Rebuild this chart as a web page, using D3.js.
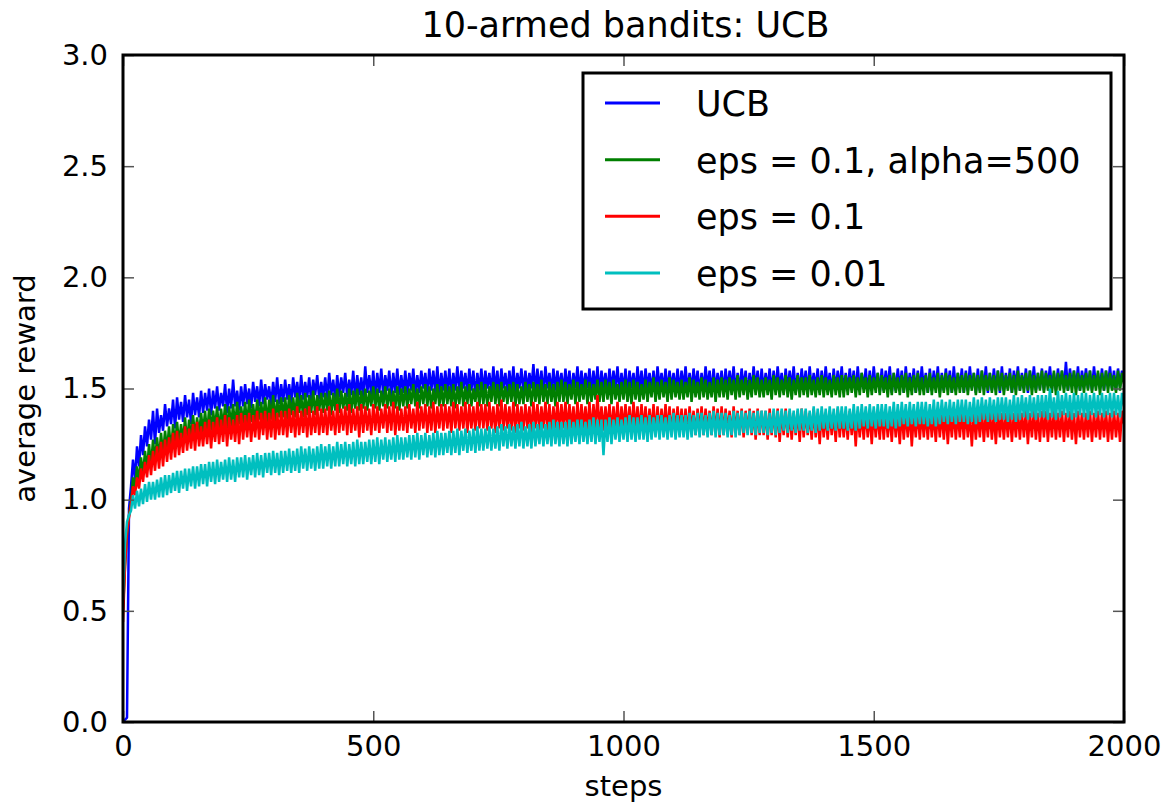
<!DOCTYPE html>
<html>
<head>
<meta charset="utf-8">
<script src="https://cdn.jsdelivr.net/npm/d3@7"></script>
<style>
  body { margin: 0; background: #fff; }
  text { font-family: "DejaVu Sans", sans-serif; fill: #000; }
</style>
</head>
<body>
<div id="chart"></div>
<script>
// Average reward, one value every 4 steps
// (values swing between the lower and upper edge of each noisy band)
const stepSize = 4;

const ucb = [
  0.00, 0.01, 0.02, 0.96, 1.06, 1.18, 1.09, 1.24, 1.15, 1.29, 1.20, 1.33, 1.24, 1.36, 1.27, 1.40, 1.25, 1.41, 1.30, 1.38,
  1.31, 1.43, 1.33, 1.41, 1.34, 1.45, 1.32, 1.46, 1.36, 1.44, 1.35, 1.47, 1.37, 1.45, 1.34, 1.48, 1.38, 1.46, 1.37, 1.49,
  1.39, 1.48, 1.40, 1.50, 1.38, 1.49, 1.41, 1.51, 1.40, 1.48, 1.42, 1.52, 1.39, 1.50, 1.41, 1.54, 1.42, 1.49, 1.40, 1.51,
  1.42, 1.52, 1.43, 1.50, 1.41, 1.53, 1.44, 1.51, 1.42, 1.54, 1.43, 1.52, 1.45, 1.51, 1.42, 1.53, 1.44, 1.55, 1.43, 1.52,
  1.44, 1.54, 1.45, 1.52, 1.43, 1.55, 1.46, 1.53, 1.44, 1.56, 1.45, 1.53, 1.46, 1.55, 1.44, 1.54, 1.47, 1.56, 1.45, 1.53,
  1.46, 1.55, 1.45, 1.57, 1.47, 1.54, 1.45, 1.56, 1.46, 1.55, 1.48, 1.57, 1.46, 1.54, 1.47, 1.58, 1.45, 1.56, 1.47, 1.55,
  1.46, 1.60, 1.48, 1.56, 1.47, 1.58, 1.46, 1.57, 1.48, 1.59, 1.47, 1.56, 1.49, 1.58, 1.46, 1.57, 1.48, 1.59, 1.47, 1.56,
  1.48, 1.58, 1.47, 1.57, 1.49, 1.59, 1.47, 1.56, 1.48, 1.58, 1.50, 1.57, 1.47, 1.59, 1.49, 1.58, 1.48, 1.60, 1.47, 1.57,
  1.49, 1.58, 1.48, 1.59, 1.47, 1.57, 1.49, 1.60, 1.48, 1.58, 1.50, 1.57, 1.48, 1.59, 1.49, 1.58, 1.47, 1.57, 1.49, 1.59,
  1.48, 1.58, 1.50, 1.57, 1.48, 1.60, 1.49, 1.58, 1.47, 1.59, 1.50, 1.57, 1.48, 1.58, 1.49, 1.60, 1.48, 1.57, 1.50, 1.59,
  1.48, 1.58, 1.49, 1.57, 1.50, 1.61, 1.48, 1.59, 1.49, 1.58, 1.47, 1.60, 1.50, 1.57, 1.48, 1.59, 1.49, 1.58, 1.50, 1.57,
  1.48, 1.59, 1.49, 1.58, 1.47, 1.57, 1.50, 1.60, 1.48, 1.58, 1.49, 1.57, 1.50, 1.59, 1.48, 1.58, 1.49, 1.60, 1.47, 1.58,
  1.50, 1.57, 1.48, 1.59, 1.49, 1.58, 1.50, 1.60, 1.48, 1.57, 1.49, 1.59, 1.47, 1.58, 1.50, 1.57, 1.48, 1.60, 1.49, 1.58,
  1.48, 1.59, 1.50, 1.57, 1.49, 1.58, 1.48, 1.60, 1.50, 1.57, 1.49, 1.59, 1.48, 1.58, 1.50, 1.57, 1.49, 1.59, 1.48, 1.58,
  1.50, 1.60, 1.48, 1.57, 1.49, 1.59, 1.50, 1.58, 1.48, 1.57, 1.49, 1.60, 1.50, 1.58, 1.48, 1.59, 1.49, 1.57, 1.50, 1.58,
  1.48, 1.59, 1.49, 1.58, 1.50, 1.60, 1.48, 1.57, 1.49, 1.59, 1.50, 1.58, 1.48, 1.57, 1.49, 1.60, 1.50, 1.58, 1.48, 1.59,
  1.49, 1.57, 1.50, 1.59, 1.48, 1.58, 1.49, 1.60, 1.50, 1.57, 1.48, 1.59, 1.49, 1.58, 1.50, 1.60, 1.48, 1.57, 1.49, 1.59,
  1.50, 1.58, 1.48, 1.60, 1.49, 1.57, 1.50, 1.59, 1.48, 1.58, 1.49, 1.60, 1.50, 1.57, 1.48, 1.59, 1.49, 1.58, 1.50, 1.60,
  1.48, 1.57, 1.49, 1.59, 1.50, 1.58, 1.48, 1.60, 1.49, 1.57, 1.50, 1.59, 1.48, 1.58, 1.49, 1.60, 1.50, 1.57, 1.48, 1.59,
  1.49, 1.58, 1.50, 1.60, 1.48, 1.57, 1.49, 1.59, 1.50, 1.58, 1.48, 1.60, 1.49, 1.57, 1.50, 1.59, 1.48, 1.58, 1.49, 1.60,
  1.50, 1.57, 1.48, 1.59, 1.49, 1.58, 1.50, 1.60, 1.48, 1.57, 1.49, 1.59, 1.50, 1.58, 1.48, 1.60, 1.49, 1.57, 1.50, 1.59,
  1.48, 1.58, 1.49, 1.60, 1.50, 1.57, 1.48, 1.59, 1.49, 1.58, 1.50, 1.60, 1.48, 1.57, 1.49, 1.59, 1.50, 1.58, 1.48, 1.60,
  1.49, 1.57, 1.50, 1.59, 1.48, 1.58, 1.51, 1.60, 1.49, 1.57, 1.50, 1.59, 1.48, 1.58, 1.51, 1.60, 1.49, 1.57, 1.50, 1.59,
  1.49, 1.58, 1.51, 1.60, 1.50, 1.57, 1.49, 1.59, 1.51, 1.58, 1.50, 1.62, 1.49, 1.59, 1.51, 1.58, 1.50, 1.60, 1.49, 1.58,
  1.51, 1.59, 1.50, 1.58, 1.49, 1.60, 1.51, 1.57, 1.50, 1.59, 1.49, 1.58, 1.51, 1.60, 1.50, 1.58, 1.49, 1.59, 1.51, 1.58,
  1.54
];

const epsAlpha = [
  0.50, 0.70, 0.84, 0.93, 0.99, 1.10, 1.05, 1.15, 1.08, 1.19, 1.11, 1.22, 1.13, 1.25, 1.15, 1.27, 1.17, 1.28, 1.18, 1.30,
  1.20, 1.31, 1.22, 1.33, 1.21, 1.34, 1.24, 1.35, 1.25, 1.34, 1.26, 1.37, 1.25, 1.36, 1.27, 1.38, 1.28, 1.37, 1.29, 1.39,
  1.30, 1.40, 1.29, 1.41, 1.31, 1.40, 1.32, 1.42, 1.30, 1.41, 1.32, 1.43, 1.31, 1.42, 1.33, 1.43, 1.32, 1.44, 1.34, 1.42,
  1.34, 1.44, 1.33, 1.45, 1.35, 1.43, 1.34, 1.45, 1.36, 1.44, 1.35, 1.46, 1.34, 1.45, 1.36, 1.47, 1.35, 1.45, 1.37, 1.46,
  1.37, 1.46, 1.36, 1.47, 1.38, 1.46, 1.37, 1.48, 1.39, 1.47, 1.37, 1.48, 1.38, 1.47, 1.39, 1.49, 1.38, 1.47, 1.40, 1.48,
  1.39, 1.48, 1.40, 1.49, 1.38, 1.48, 1.40, 1.50, 1.39, 1.49, 1.41, 1.48, 1.40, 1.50, 1.39, 1.49, 1.41, 1.50, 1.40, 1.49,
  1.41, 1.50, 1.40, 1.49, 1.42, 1.51, 1.41, 1.50, 1.40, 1.49, 1.42, 1.51, 1.41, 1.50, 1.42, 1.49, 1.41, 1.51, 1.40, 1.50,
  1.42, 1.51, 1.41, 1.50, 1.43, 1.52, 1.42, 1.50, 1.41, 1.51, 1.43, 1.52, 1.42, 1.51, 1.41, 1.50, 1.43, 1.52, 1.42, 1.51,
  1.42, 1.52, 1.43, 1.51, 1.42, 1.52, 1.41, 1.51, 1.43, 1.53, 1.42, 1.51, 1.43, 1.52, 1.42, 1.50, 1.44, 1.52, 1.42, 1.53,
  1.43, 1.52, 1.42, 1.51, 1.44, 1.53, 1.43, 1.52, 1.42, 1.53, 1.44, 1.51, 1.43, 1.52, 1.44, 1.53, 1.42, 1.52, 1.43, 1.51,
  1.43, 1.53, 1.44, 1.52, 1.42, 1.53, 1.44, 1.52, 1.43, 1.54, 1.44, 1.52, 1.43, 1.53, 1.44, 1.52, 1.42, 1.53, 1.44, 1.54,
  1.44, 1.53, 1.43, 1.52, 1.45, 1.54, 1.43, 1.53, 1.44, 1.52, 1.45, 1.54, 1.43, 1.53, 1.44, 1.52, 1.45, 1.54, 1.44, 1.53,
  1.44, 1.54, 1.45, 1.53, 1.43, 1.54, 1.45, 1.52, 1.44, 1.53, 1.45, 1.54, 1.44, 1.53, 1.43, 1.54, 1.45, 1.53, 1.44, 1.52,
  1.45, 1.54, 1.44, 1.53, 1.46, 1.55, 1.44, 1.53, 1.45, 1.54, 1.46, 1.53, 1.44, 1.55, 1.45, 1.54, 1.46, 1.53, 1.45, 1.54,
  1.45, 1.53, 1.46, 1.55, 1.44, 1.54, 1.46, 1.53, 1.45, 1.55, 1.46, 1.54, 1.45, 1.53, 1.46, 1.55, 1.44, 1.54, 1.46, 1.55,
  1.46, 1.54, 1.45, 1.55, 1.47, 1.54, 1.45, 1.56, 1.46, 1.54, 1.47, 1.55, 1.45, 1.54, 1.46, 1.56, 1.47, 1.55, 1.46, 1.54,
  1.46, 1.55, 1.47, 1.54, 1.45, 1.56, 1.47, 1.55, 1.46, 1.54, 1.47, 1.56, 1.46, 1.55, 1.45, 1.54, 1.47, 1.56, 1.46, 1.55,
  1.47, 1.55, 1.46, 1.56, 1.47, 1.54, 1.46, 1.55, 1.47, 1.56, 1.46, 1.55, 1.47, 1.54, 1.46, 1.56, 1.47, 1.55, 1.46, 1.56,
  1.46, 1.56, 1.47, 1.55, 1.48, 1.56, 1.46, 1.55, 1.47, 1.57, 1.48, 1.55, 1.46, 1.56, 1.47, 1.55, 1.48, 1.57, 1.47, 1.56,
  1.48, 1.55, 1.46, 1.56, 1.47, 1.57, 1.48, 1.55, 1.47, 1.56, 1.48, 1.57, 1.46, 1.55, 1.47, 1.56, 1.48, 1.57, 1.47, 1.55,
  1.47, 1.56, 1.48, 1.57, 1.47, 1.55, 1.48, 1.57, 1.46, 1.56, 1.48, 1.57, 1.47, 1.56, 1.48, 1.55, 1.47, 1.57, 1.48, 1.56,
  1.48, 1.57, 1.47, 1.56, 1.49, 1.57, 1.47, 1.56, 1.48, 1.58, 1.47, 1.56, 1.49, 1.57, 1.48, 1.56, 1.47, 1.58, 1.49, 1.57,
  1.47, 1.56, 1.49, 1.57, 1.48, 1.56, 1.47, 1.58, 1.49, 1.56, 1.48, 1.57, 1.49, 1.58, 1.47, 1.56, 1.48, 1.57, 1.49, 1.58,
  1.48, 1.57, 1.49, 1.56, 1.48, 1.58, 1.47, 1.57, 1.49, 1.58, 1.48, 1.56, 1.49, 1.57, 1.48, 1.58, 1.47, 1.57, 1.49, 1.56,
  1.48, 1.57, 1.49, 1.58, 1.48, 1.56, 1.49, 1.58, 1.47, 1.57, 1.49, 1.58, 1.48, 1.57, 1.49, 1.56, 1.48, 1.58, 1.49, 1.57,
  1.52
];

const eps01 = [
  0.45, 0.70, 0.85, 0.92, 0.98, 1.06, 1.02, 1.10, 1.05, 1.14, 1.08, 1.17, 1.10, 1.20, 1.11, 1.22, 1.13, 1.24, 1.14, 1.26,
  1.15, 1.27, 1.17, 1.28, 1.18, 1.30, 1.19, 1.31, 1.20, 1.30, 1.21, 1.33, 1.22, 1.32, 1.23, 1.34, 1.22, 1.35, 1.24, 1.33,
  1.24, 1.35, 1.25, 1.36, 1.23, 1.35, 1.26, 1.37, 1.25, 1.36, 1.26, 1.38, 1.24, 1.37, 1.27, 1.36, 1.26, 1.38, 1.25, 1.39,
  1.27, 1.38, 1.28, 1.39, 1.26, 1.38, 1.28, 1.40, 1.27, 1.39, 1.29, 1.40, 1.27, 1.39, 1.28, 1.41, 1.27, 1.39, 1.29, 1.40,
  1.29, 1.40, 1.28, 1.41, 1.30, 1.40, 1.28, 1.42, 1.29, 1.40, 1.30, 1.41, 1.28, 1.42, 1.29, 1.40, 1.30, 1.42, 1.29, 1.41,
  1.30, 1.41, 1.29, 1.42, 1.31, 1.40, 1.29, 1.43, 1.30, 1.41, 1.31, 1.42, 1.29, 1.43, 1.30, 1.41, 1.31, 1.42, 1.28, 1.43,
  1.30, 1.42, 1.31, 1.41, 1.29, 1.43, 1.31, 1.42, 1.30, 1.41, 1.32, 1.43, 1.30, 1.42, 1.31, 1.44, 1.29, 1.42, 1.31, 1.41,
  1.31, 1.42, 1.30, 1.43, 1.32, 1.41, 1.30, 1.44, 1.31, 1.42, 1.32, 1.43, 1.30, 1.42, 1.31, 1.44, 1.30, 1.42, 1.32, 1.43,
  1.31, 1.43, 1.32, 1.42, 1.30, 1.44, 1.32, 1.43, 1.31, 1.42, 1.32, 1.44, 1.30, 1.43, 1.32, 1.42, 1.31, 1.44, 1.32, 1.43,
  1.32, 1.43, 1.31, 1.44, 1.32, 1.42, 1.30, 1.43, 1.32, 1.45, 1.31, 1.43, 1.32, 1.42, 1.31, 1.44, 1.30, 1.43, 1.32, 1.42,
  1.31, 1.43, 1.32, 1.42, 1.30, 1.44, 1.32, 1.43, 1.31, 1.42, 1.32, 1.44, 1.31, 1.43, 1.30, 1.42, 1.32, 1.44, 1.31, 1.43,
  1.32, 1.44, 1.31, 1.43, 1.32, 1.42, 1.30, 1.44, 1.31, 1.43, 1.32, 1.42, 1.31, 1.44, 1.30, 1.43, 1.32, 1.47, 1.31, 1.42,
  1.31, 1.42, 1.32, 1.43, 1.30, 1.42, 1.31, 1.44, 1.30, 1.42, 1.32, 1.43, 1.31, 1.42, 1.30, 1.44, 1.31, 1.42, 1.30, 1.43,
  1.31, 1.42, 1.30, 1.41, 1.31, 1.43, 1.29, 1.42, 1.30, 1.41, 1.31, 1.43, 1.30, 1.42, 1.29, 1.41, 1.31, 1.42, 1.30, 1.41,
  1.30, 1.41, 1.29, 1.42, 1.31, 1.40, 1.29, 1.41, 1.30, 1.42, 1.29, 1.41, 1.31, 1.40, 1.29, 1.42, 1.30, 1.41, 1.28, 1.42,
  1.29, 1.41, 1.30, 1.40, 1.28, 1.42, 1.30, 1.40, 1.29, 1.41, 1.28, 1.40, 1.30, 1.41, 1.29, 1.40, 1.27, 1.41, 1.29, 1.40,
  1.29, 1.40, 1.27, 1.41, 1.29, 1.40, 1.28, 1.41, 1.26, 1.40, 1.29, 1.41, 1.28, 1.40, 1.27, 1.39, 1.29, 1.40, 1.26, 1.41,
  1.28, 1.40, 1.29, 1.39, 1.27, 1.41, 1.28, 1.39, 1.25, 1.40, 1.28, 1.39, 1.27, 1.40, 1.29, 1.39, 1.26, 1.41, 1.28, 1.39,
  1.28, 1.39, 1.27, 1.40, 1.29, 1.39, 1.24, 1.40, 1.28, 1.39, 1.27, 1.40, 1.28, 1.39, 1.25, 1.40, 1.28, 1.39, 1.27, 1.40,
  1.27, 1.40, 1.28, 1.39, 1.26, 1.40, 1.28, 1.39, 1.25, 1.40, 1.27, 1.39, 1.28, 1.40, 1.24, 1.39, 1.28, 1.40, 1.27, 1.39,
  1.28, 1.39, 1.27, 1.40, 1.28, 1.39, 1.26, 1.40, 1.28, 1.39, 1.27, 1.40, 1.25, 1.39, 1.28, 1.40, 1.27, 1.39, 1.28, 1.40,
  1.27, 1.40, 1.28, 1.39, 1.24, 1.40, 1.27, 1.39, 1.28, 1.40, 1.26, 1.39, 1.28, 1.40, 1.27, 1.39, 1.25, 1.40, 1.28, 1.39,
  1.27, 1.39, 1.28, 1.40, 1.26, 1.39, 1.28, 1.40, 1.27, 1.39, 1.28, 1.40, 1.25, 1.39, 1.28, 1.40, 1.27, 1.39, 1.26, 1.40,
  1.28, 1.40, 1.26, 1.39, 1.28, 1.40, 1.27, 1.39, 1.28, 1.40, 1.26, 1.39, 1.28, 1.40, 1.27, 1.39, 1.25, 1.40, 1.28, 1.39,
  1.27, 1.39, 1.28, 1.40, 1.26, 1.39, 1.28, 1.40, 1.27, 1.39, 1.28, 1.40, 1.26, 1.39, 1.27, 1.40, 1.28, 1.39, 1.26, 1.40,
  1.34
];

const eps001 = [
  0.55, 0.80, 0.90, 0.93, 0.95, 1.02, 0.96, 1.04, 0.97, 1.05, 0.98, 1.07, 0.99, 1.08, 1.00, 1.08, 1.00, 1.09, 1.01, 1.10,
  1.01, 1.11, 1.02, 1.11, 1.03, 1.12, 1.04, 1.13, 1.03, 1.13, 1.05, 1.14, 1.04, 1.14, 1.06, 1.15, 1.05, 1.15, 1.06, 1.16,
  1.07, 1.16, 1.06, 1.17, 1.08, 1.17, 1.07, 1.18, 1.08, 1.17, 1.09, 1.18, 1.08, 1.19, 1.09, 1.18, 1.08, 1.19, 1.10, 1.19,
  1.10, 1.20, 1.09, 1.19, 1.11, 1.20, 1.10, 1.21, 1.11, 1.20, 1.10, 1.21, 1.12, 1.21, 1.11, 1.22, 1.12, 1.21, 1.11, 1.22,
  1.12, 1.22, 1.13, 1.23, 1.12, 1.22, 1.13, 1.23, 1.12, 1.24, 1.14, 1.23, 1.13, 1.24, 1.14, 1.23, 1.13, 1.24, 1.14, 1.25,
  1.14, 1.24, 1.15, 1.25, 1.14, 1.24, 1.15, 1.26, 1.15, 1.25, 1.16, 1.26, 1.15, 1.25, 1.16, 1.26, 1.15, 1.27, 1.16, 1.26,
  1.16, 1.26, 1.17, 1.27, 1.16, 1.27, 1.17, 1.28, 1.16, 1.27, 1.18, 1.28, 1.17, 1.27, 1.18, 1.28, 1.17, 1.29, 1.18, 1.28,
  1.18, 1.28, 1.19, 1.29, 1.18, 1.29, 1.19, 1.30, 1.18, 1.29, 1.20, 1.30, 1.19, 1.29, 1.20, 1.30, 1.19, 1.31, 1.20, 1.30,
  1.20, 1.30, 1.21, 1.31, 1.20, 1.31, 1.21, 1.32, 1.20, 1.31, 1.22, 1.32, 1.21, 1.31, 1.22, 1.32, 1.21, 1.33, 1.22, 1.32,
  1.22, 1.32, 1.23, 1.33, 1.22, 1.32, 1.23, 1.33, 1.22, 1.34, 1.24, 1.33, 1.23, 1.34, 1.24, 1.33, 1.23, 1.34, 1.24, 1.35,
  1.23, 1.33, 1.24, 1.34, 1.23, 1.35, 1.24, 1.34, 1.25, 1.35, 1.24, 1.34, 1.25, 1.35, 1.24, 1.36, 1.25, 1.35, 1.24, 1.35,
  1.25, 1.35, 1.24, 1.36, 1.25, 1.35, 1.26, 1.36, 1.25, 1.36, 1.26, 1.35, 1.25, 1.36, 1.26, 1.37, 1.25, 1.36, 1.26, 1.36,
  1.20, 1.36, 1.26, 1.37, 1.25, 1.36, 1.27, 1.37, 1.26, 1.36, 1.27, 1.37, 1.26, 1.38, 1.27, 1.37, 1.26, 1.37, 1.27, 1.38,
  1.27, 1.37, 1.26, 1.38, 1.27, 1.37, 1.28, 1.38, 1.27, 1.38, 1.28, 1.37, 1.27, 1.38, 1.28, 1.39, 1.27, 1.38, 1.28, 1.38,
  1.28, 1.38, 1.27, 1.39, 1.28, 1.38, 1.29, 1.39, 1.28, 1.39, 1.29, 1.38, 1.28, 1.39, 1.29, 1.40, 1.28, 1.39, 1.29, 1.39,
  1.29, 1.39, 1.28, 1.38, 1.29, 1.40, 1.28, 1.39, 1.29, 1.40, 1.30, 1.39, 1.29, 1.40, 1.30, 1.39, 1.29, 1.40, 1.30, 1.40,
  1.30, 1.40, 1.29, 1.39, 1.30, 1.41, 1.29, 1.40, 1.30, 1.41, 1.31, 1.40, 1.30, 1.41, 1.31, 1.40, 1.30, 1.41, 1.31, 1.41,
  1.31, 1.41, 1.30, 1.40, 1.31, 1.42, 1.30, 1.41, 1.31, 1.42, 1.32, 1.41, 1.31, 1.42, 1.32, 1.41, 1.31, 1.42, 1.32, 1.42,
  1.32, 1.42, 1.31, 1.41, 1.32, 1.43, 1.31, 1.42, 1.32, 1.43, 1.33, 1.42, 1.32, 1.43, 1.33, 1.42, 1.32, 1.43, 1.33, 1.43,
  1.33, 1.43, 1.32, 1.42, 1.33, 1.44, 1.32, 1.43, 1.33, 1.44, 1.34, 1.43, 1.33, 1.44, 1.34, 1.43, 1.33, 1.44, 1.34, 1.44,
  1.34, 1.44, 1.33, 1.43, 1.34, 1.45, 1.33, 1.44, 1.34, 1.45, 1.35, 1.44, 1.34, 1.45, 1.35, 1.44, 1.34, 1.45, 1.35, 1.45,
  1.35, 1.45, 1.34, 1.44, 1.35, 1.46, 1.34, 1.45, 1.35, 1.46, 1.36, 1.45, 1.35, 1.46, 1.36, 1.45, 1.35, 1.46, 1.36, 1.46,
  1.36, 1.46, 1.35, 1.45, 1.36, 1.47, 1.35, 1.46, 1.36, 1.47, 1.37, 1.46, 1.36, 1.47, 1.37, 1.46, 1.36, 1.47, 1.37, 1.47,
  1.37, 1.47, 1.36, 1.50, 1.37, 1.46, 1.36, 1.49, 1.37, 1.47, 1.38, 1.48, 1.37, 1.47, 1.36, 1.48, 1.37, 1.47, 1.38, 1.48,
  1.37, 1.48, 1.36, 1.47, 1.38, 1.48, 1.37, 1.47, 1.38, 1.48, 1.37, 1.47, 1.38, 1.48, 1.37, 1.48, 1.38, 1.47, 1.37, 1.48,
  1.42
];

const seriesNames = ["UCB", "eps = 0.1, alpha=500", "eps = 0.1", "eps = 0.01"];
const seriesValues = [ucb, epsAlpha, eps01, eps001];
const seriesColors = ["#0000ff", "#007f00", "#ff0000", "#00bfbf"];

const xTicks = [0, 500, 1000, 1500, 2000];
const yTicks = [0.0, 0.5, 1.0, 1.5, 2.0, 2.5, 3.0];

// Layout
const width = 1162;
const height = 808;
const plotLeft = 123, plotRight = 1124, plotTop = 55, plotBottom = 722;

const svg = d3.select("#chart")
    .append("svg")
    .attr("width", width)
    .attr("height", height);

svg.append("rect")
    .attr("width", width)
    .attr("height", height)
    .attr("fill", "#fff");

const x = d3.scaleLinear().domain([0, 2000]).range([plotLeft, plotRight]);
const y = d3.scaleLinear().domain([0, 3]).range([plotBottom, plotTop]);

svg.append("clipPath")
    .attr("id", "plot-clip")
    .append("rect")
    .attr("x", plotLeft)
    .attr("y", plotTop)
    .attr("width", plotRight - plotLeft)
    .attr("height", plotBottom - plotTop);

// Lines, drawn in legend order so later ones sit on top
const line = d3.line()
    .x((d, i) => x(i * stepSize))
    .y(d => y(d));

svg.append("g")
    .attr("clip-path", "url(#plot-clip)")
    .selectAll("path")
    .data(seriesValues)
    .enter()
    .append("path")
    .attr("d", d => line(d))
    .attr("fill", "none")
    .attr("stroke", (d, i) => seriesColors[i])
    .attr("stroke-width", 2.5)
    .attr("stroke-linejoin", "bevel");

// Inward ticks on all four sides
const tickLen = 11;
const noDomain = sel => sel.select(".domain").remove();

svg.append("g")
    .attr("transform", `translate(0,${plotBottom})`)
    .call(d3.axisBottom(x).tickValues(xTicks).tickSize(-tickLen).tickPadding(13).tickFormat(d3.format("d")))
    .call(noDomain);
svg.append("g")
    .attr("transform", `translate(0,${plotTop})`)
    .call(d3.axisTop(x).tickValues(xTicks).tickSize(-tickLen).tickFormat(""))
    .call(noDomain);
svg.append("g")
    .attr("transform", `translate(${plotLeft},0)`)
    .call(d3.axisLeft(y).tickValues(yTicks).tickSize(-tickLen).tickPadding(15).tickFormat(d3.format(".1f")))
    .call(noDomain);
svg.append("g")
    .attr("transform", `translate(${plotRight},0)`)
    .call(d3.axisRight(y).tickValues(yTicks).tickSize(-tickLen).tickFormat(""))
    .call(noDomain);

svg.selectAll(".tick line")
    .attr("stroke", "#555")
    .attr("stroke-width", 1.5);
svg.selectAll(".tick text")
    .attr("font-family", "DejaVu Sans")
    .attr("font-size", 29)
    .attr("fill", "#000");

// Frame
svg.append("rect")
    .attr("x", plotLeft)
    .attr("y", plotTop)
    .attr("width", plotRight - plotLeft)
    .attr("height", plotBottom - plotTop)
    .attr("fill", "none")
    .attr("stroke", "#000")
    .attr("stroke-width", 3);

// Title and axis labels
svg.append("text")
    .attr("x", (plotLeft + plotRight) / 2 + 2)
    .attr("y", 37)
    .attr("text-anchor", "middle")
    .attr("font-size", 35)
    .text("10-armed bandits: UCB");

svg.append("text")
    .attr("x", (plotLeft + plotRight) / 2)
    .attr("y", 796)
    .attr("text-anchor", "middle")
    .attr("font-size", 29)
    .text("steps");

svg.append("text")
    .attr("transform", `translate(35,${(plotTop + plotBottom) / 2}) rotate(-90)`)
    .attr("text-anchor", "middle")
    .attr("font-size", 29)
    .text("average reward");

// Legend
const legend = svg.append("g");
legend.append("rect")
    .attr("x", 583)
    .attr("y", 73)
    .attr("width", 528)
    .attr("height", 236)
    .attr("fill", "#fff")
    .attr("stroke", "#000")
    .attr("stroke-width", 3);

const rowY = d3.scalePoint().domain(seriesNames).range([103, 273]);

const rows = legend.selectAll("g.row")
    .data(seriesNames)
    .enter()
    .append("g")
    .attr("class", "row");

rows.append("line")
    .attr("x1", 605)
    .attr("x2", 660)
    .attr("y1", d => rowY(d))
    .attr("y2", d => rowY(d))
    .attr("stroke", (d, i) => seriesColors[i])
    .attr("stroke-width", 3);

rows.append("text")
    .attr("x", 696)
    .attr("y", d => rowY(d) + 13)
    .attr("font-size", 35)
    .text(d => d);
</script>
</body>
</html>
